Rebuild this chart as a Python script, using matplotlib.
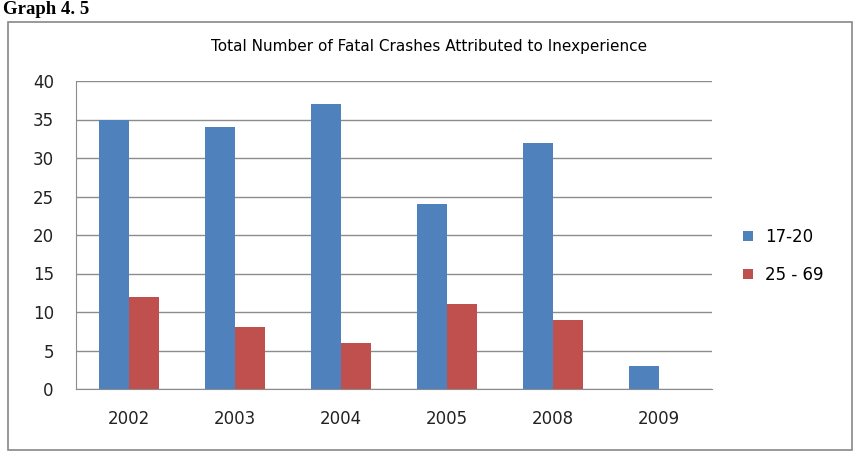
import matplotlib
matplotlib.use("Agg")
import matplotlib.pyplot as plt
import numpy as np
from matplotlib.patches import Rectangle

years = ["2002", "2003", "2004", "2005", "2008", "2009"]
s1720 = [35, 34, 37, 24, 32, 3]
s2569 = [12, 8, 6, 11, 9, 0]
series_names = ["17-20", "25 - 69"]
title = "Total Number of Fatal Crashes Attributed to Inexperience"

plt.rcParams['font.family'] = ['DejaVu Sans']
W, H = 864, 458
fig = plt.figure(figsize=(W/100, H/100), dpi=100)

# outer frame
fig.patches.append(Rectangle((8/W, 1-450/H), (852-8)/W, (450-22)/H, transform=fig.transFigure,
                             fill=False, edgecolor='#888888', linewidth=1.2))
fig.text(3/W, 1-1/H, "Graph 4. 5", family='Liberation Serif', fontweight='bold',
         fontsize=13.5, va='top', ha='left')

ax = fig.add_axes([76/W, 1-389/H, (712-76)/W, (389-81)/H])
x = np.arange(len(years))
w = 0.284
blue = '#4F81BD'
red = '#C0504D'
ax.bar(x - w/2, s1720, w, color=blue, label=series_names[0], zorder=3)
ax.bar(x[:5] + w/2, s2569[:5], w, color=red, label=series_names[1], zorder=3)

ax.set_xlim(-0.5, len(years) - 0.5)
ax.set_ylim(0, 40)
ax.set_yticks(range(0, 41, 5))
ax.set_xticks(x)
ax.set_xticklabels(years, fontsize=12.5)
ax.yaxis.grid(True, color='#8c8c8c', linewidth=1.0, zorder=0)
for s in ['top', 'right']:
    ax.spines[s].set_visible(False)
for s in ['left', 'bottom']:
    ax.spines[s].set_color('#8c8c8c')
ax.tick_params(axis='both', length=0, labelsize=12, colors='#222222')
ax.tick_params(axis='x', pad=15)
ax.tick_params(axis='y', pad=16)

fig.text(429 / W, 1-47/H, title, ha='center', va='center', fontsize=11)

fig.legend(loc='center left', bbox_to_anchor=(728/W, 1-256/H), frameon=False,
           fontsize=12, handlelength=0.6, handleheight=0.6, labelspacing=1.2,
           handletextpad=0.7)

fig.savefig("out.png", dpi=100)
